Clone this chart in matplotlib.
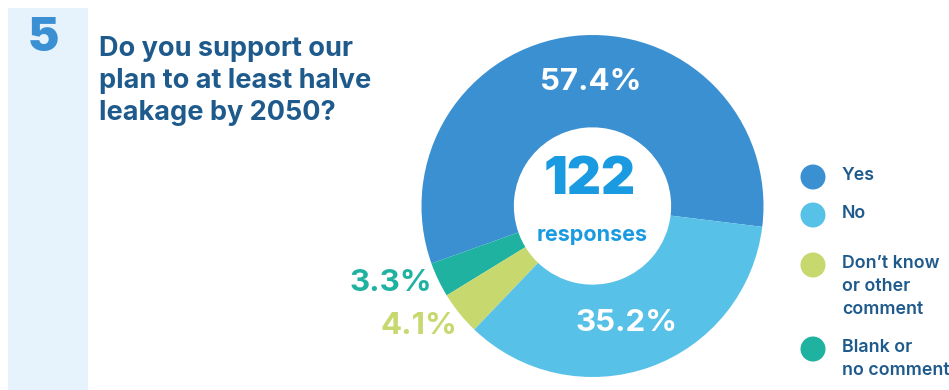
import matplotlib
matplotlib.use("Agg")
import matplotlib.pyplot as plt
from matplotlib.patches import Rectangle, Circle

W, H = 949, 390

# survey answers, share of responses (%)
categories = ["Yes", "Blank or\nno comment", "Don\u2019t know\nor other\ncomment", "No"]
shares = [57.4, 3.3, 4.1, 35.2]
colors = ["#3b90d2", "#20b2a0", "#c6d86e", "#57c1e8"]
total_responses = 122

question = "Do you support our\nplan to at least halve\nleakage by 2050?"
question_no = "5"

legend_order = [0, 3, 2, 1]
legend_y = [177, 215, 265, 349]

title_col = "#1e5a8c"
font = "Inter"

fig = plt.figure(figsize=(W / 100, H / 100), dpi=100)

# background layer in pixel units (y down)
bg = fig.add_axes([0, 0, 1, 1])
bg.set_xlim(0, W)
bg.set_ylim(H, 0)
bg.axis("off")
bg.add_patch(Rectangle((8, 8), 80, H, color="#e6f3fd", lw=0))


def px(x, y):
    return x / W, 1 - y / H


fig.text(*px(43, 39), question_no, color="#3b8fd3", fontsize=34, fontweight="black",
         family=font, ha="center", va="center")
fig.text(*px(99, 36), question, color=title_col, fontsize=19.5, fontweight="bold",
         family=font, ha="left", va="top", linespacing=1.3)

# donut
cx, cy, R = 592.5, 206, 171
ax = fig.add_axes([(cx - R) / W, (H - cy - R) / H, 2 * R / W, 2 * R / H])
ax.pie(shares, colors=colors, startangle=-7, counterclock=True, radius=1,
       wedgeprops=dict(width=0.54, linewidth=0))
ax.set_xlim(-1, 1)
ax.set_ylim(-1, 1)
ax.set_aspect("equal")
ax.axis("off")

fig.text(*px(590, 181), str(total_responses), color="#1a9ae0", fontsize=38,
         fontweight="black", family=font, ha="center", va="center")
fig.text(*px(592, 235), "responses", color="#1a9ae0", fontsize=15.5,
         fontweight="bold", family=font, ha="center", va="center")

# value labels
label_pos = [(591, 82), (391, 283), (419, 326), (627, 323)]
label_col = ["white", colors[1], colors[2], "white"]
for v, (x, y), c in zip(shares, label_pos, label_col):
    fig.text(*px(x, y), f"{v}%", color=c, fontsize=22.5, fontweight="bold",
             family=font, ha="center", va="center")

# legend
for i, y in zip(legend_order, legend_y):
    bg.add_patch(Circle((813, y), 12.5, color=colors[i], lw=0))
    fig.text(*px(842, y - 10), categories[i], color=title_col, fontsize=12.8,
             fontweight="semibold", family=font, ha="left", va="top", linespacing=1.45)

fig.savefig("out.png", dpi=100)
